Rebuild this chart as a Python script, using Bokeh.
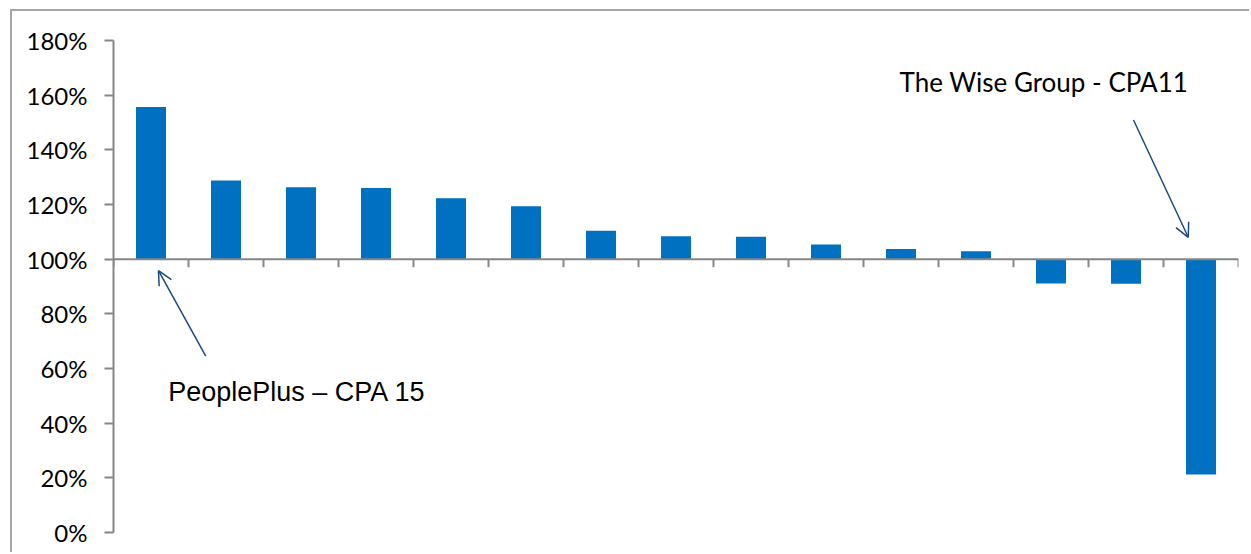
from bokeh.plotting import figure
from bokeh.models import (Range1d, Span, Arrow, OpenHead, Label, PrintfTickFormatter,
                          FixedTicker, ColumnDataSource)
from bokeh.embed import file_html
from bokeh.resources import INLINE

# ---- data ----
values = [155.7, 128.8, 126.3, 126.0, 122.3, 119.4, 110.4, 108.4, 108.2,
          105.4, 103.7, 102.9, 91.1, 91.0, 21.2]
baseline = 100
y_ticks = [0, 20, 40, 60, 80, 100, 120, 140, 160, 180]
people_label = "PeoplePlus \u2013 CPA 15"
wise_label = "The Wise Group - CPA11"

n = len(values)
centers = [i + 0.5 for i in range(n)]
boundaries = list(range(n + 1))

BAR = "#0070C0"
AXIS = "#868686"
ARROW = "#1B4A7F"

W, H = 1239, 543
BT, BB = 29, 22
p = figure(width=W, height=H, output_backend="svg", toolbar_location=None,
           x_range=Range1d(0, n), y_range=Range1d(0, 180),
           min_border_left=101, min_border_right=13, min_border_top=BT,
           min_border_bottom=BB, margin=(9, 0, 0, 10))
p.styles = {"border-left": "2px solid #A6A6A6", "border-top": "2px solid #A6A6A6"}
p.xaxis.visible = False
p.xgrid.visible = False
p.ygrid.visible = False
p.outline_line_color = None
p.background_fill_color = "white"
p.border_fill_color = "white"

ya = p.yaxis[0]
ya.ticker = FixedTicker(ticks=y_ticks)
ya.formatter = PrintfTickFormatter(format="%d%%")
ya.axis_line_color = AXIS
ya.axis_line_width = 2
ya.major_tick_line_color = AXIS
ya.major_tick_line_width = 2
ya.major_tick_out = 9
ya.major_tick_in = 0
ya.minor_tick_line_color = None
ya.major_label_text_font = "Lato"
ya.major_label_text_font_size = "24px"
ya.major_label_text_color = "black"
ya.major_label_standoff = 17

# bars from the 100% baseline
src = ColumnDataSource(dict(x=centers, top=values, bottom=[baseline] * n))
p.vbar(x="x", top="top", bottom="bottom", width=0.4, source=src,
       fill_color=BAR, line_color=None)

# category axis at 100%
p.add_layout(Span(location=baseline, dimension="width", line_color=AXIS, line_width=2))
px_per_unit = (H - BT - BB) / 180.0
tick_len = 8 / px_per_unit
p.segment(x0=boundaries, x1=boundaries, y0=[baseline] * (n + 1),
          y1=[baseline - tick_len] * (n + 1), line_color=AXIS, line_width=2)

# annotations
p.add_layout(Arrow(x_start=1.23, y_start=64.5, x_end=0.6, y_end=95.8,
                   line_color=ARROW, line_width=1.5,
                   end=OpenHead(size=14, line_color=ARROW, line_width=1.5)))
p.add_layout(Label(x=0.73, y=51.4, text=people_label, text_font="Liberation Sans",
                   text_font_size="27px", text_color="black",
                   text_baseline="alphabetic"))
p.add_layout(Arrow(x_start=13.6, y_start=150.9, x_end=14.33, y_end=108.0,
                   line_color=ARROW, line_width=1.5,
                   end=OpenHead(size=14, line_color=ARROW, line_width=1.5)))
p.add_layout(Label(x=10.48, y=165.0, text=wise_label, text_font="Lato",
                   text_font_size="26px", text_color="black",
                   text_baseline="alphabetic"))

open("out.html", "w").write(file_html(p, INLINE))
